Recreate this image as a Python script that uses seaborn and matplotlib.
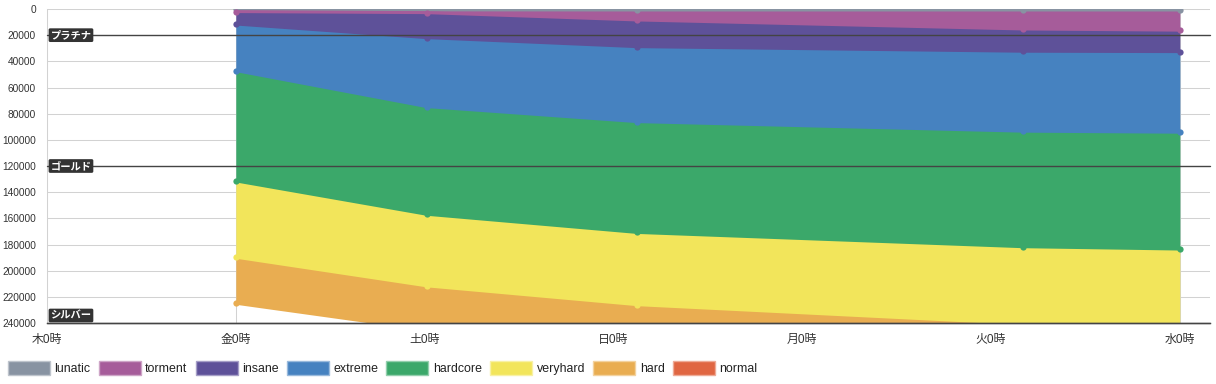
import numpy as np
import pandas as pd
import matplotlib
matplotlib.use("Agg")
import matplotlib.pyplot as plt
import matplotlib.colors as mcolors
import seaborn as sns
from matplotlib.patches import Patch
from matplotlib.transforms import blended_transform_factory

# sampled times (points)
times = pd.to_datetime(["2020-01-03 00:00", "2020-01-04 00:15", "2020-01-05 03:00",
                        "2020-01-07 04:00", "2020-01-08 00:00"])

# players per tier at each time (stacked top-down); normal has no data on the chart
tiers = ["lunatic", "torment", "insane", "extreme", "hardcore", "veryhard", "hard", "normal"]
lunatic = [300, 700, 800, 800, 800]
torment = [1700, 2100, 7600, 14500, 15400]
insane = [9500, 19100, 20400, 17000, 16400]
extreme = [35600, 52700, 57300, 61100, 61600]
hardcore = [84300, 82300, 84700, 88300, 89300]
veryhard = [58300, 54700, 55200, 58800, 62500]
hard = [35200, 33600, 32000, 27500, 26000]
normal = [np.nan, np.nan, np.nan, np.nan, np.nan]

colors = ["#8893a2", "#a65c9a", "#5e5199", "#4682c0", "#3ba86a", "#f2e55b", "#e9ad51", "#e06642"]

# rank borders
rank_values = [20000, 120000, 240000]
rank_names = ["プラチナ", "ゴールド", "シルバー"]

day_ticks = pd.to_datetime(["2020-01-02", "2020-01-03", "2020-01-04", "2020-01-05",
                            "2020-01-06", "2020-01-07", "2020-01-08"])
day_labels = ["木0時", "金0時", "土0時", "日0時", "月0時", "火0時", "水0時"]

sns.set_theme(style="white")
plt.rcParams["font.family"] = ["Liberation Sans", "Noto Sans CJK JP", "DejaVu Sans"]

fig = plt.figure(figsize=(12.16, 3.84), dpi=100)
ax = fig.add_axes([47 / 1216, 61 / 384, 1163 / 1216, 314 / 384])

series = np.array([lunatic, torment, insane, extreme, hardcore, veryhard, hard, normal], dtype=float)
stacked = np.cumsum(series, axis=0)

prev = np.zeros(len(times))
for name, cum, c in zip(tiers, stacked, colors):
    if np.isnan(cum).all():
        continue
    ax.fill_between(times, prev, cum, color=c, lw=0, zorder=1)
    prev = cum

rows = []
for name, cum in zip(tiers, stacked):
    for t, v in zip(times, cum):
        if not np.isnan(v):
            rows.append({"time": t, "rank": v, "tier": name})
df = pd.DataFrame(rows)

sns.lineplot(data=df, x="time", y="rank", hue="tier", hue_order=tiers[:-1],
             palette=colors[:-1], marker="o", markersize=4.5, markeredgewidth=0,
             linewidth=2.1, legend=False, estimator=None, ax=ax, zorder=2)

ax.set_ylim(240000, 0)
ax.set_xlim(pd.Timestamp("2020-01-02"), pd.Timestamp("2020-01-08 03:50"))
ax.set_yticks(np.arange(0, 240001, 20000))
ax.set_yticklabels([str(v) for v in np.arange(0, 240001, 20000)])
ax.set_xticks(day_ticks)
ax.set_xticklabels(day_labels)
ax.set_xlabel("")
ax.set_ylabel("")

ax.grid(True, color="#d2d2d2", lw=0.75)
ax.set_axisbelow(True)
ax.tick_params(axis="both", length=5.8, width=0.75, color="#d2d2d2")
ax.tick_params(axis="y", labelsize=7.3, pad=2.2, labelcolor="#333333")
ax.tick_params(axis="x", labelsize=8.6, pad=2, labelcolor="#333333")
for s in ["top", "right"]:
    ax.spines[s].set_visible(False)
ax.spines["left"].set_color("#d2d2d2")
ax.spines["left"].set_linewidth(0.75)
ax.spines["bottom"].set_color("#555555")
ax.spines["bottom"].set_linewidth(1)

trans = blended_transform_factory(ax.transAxes, ax.transData)
for v, name in zip(rank_values, rank_names):
    ax.axhline(v, color="#444444", lw=1, zorder=5, clip_on=False)
    dy = 5.4 if v == 240000 else 0
    ax.annotate(name, xy=(0, v), xycoords=trans, xytext=(2.5, dy), textcoords="offset points",
                ha="left", va="center", fontsize=7.4, fontweight="bold", color="white",
                bbox=dict(boxstyle="round,pad=0.18,rounding_size=0.15", fc="#333333", ec="none"),
                zorder=6)


def lighter(c, f=0.45):
    r, g, b = mcolors.to_rgb(c)
    return (r + (1 - r) * f, g + (1 - g) * f, b + (1 - b) * f)


handles = [Patch(facecolor=c, edgecolor=lighter(c), lw=1) for c in colors]
fig.legend(handles, tiers, loc="center left", bbox_to_anchor=(8 / 1216, 1 - 368 / 384),
           ncol=8, frameon=False, fontsize=8.9, handlelength=3.4, handleheight=1.45,
           handletextpad=0.36, columnspacing=0.66, borderpad=0, borderaxespad=0,
           labelcolor="#222222")

fig.savefig("out.png", dpi=100)
